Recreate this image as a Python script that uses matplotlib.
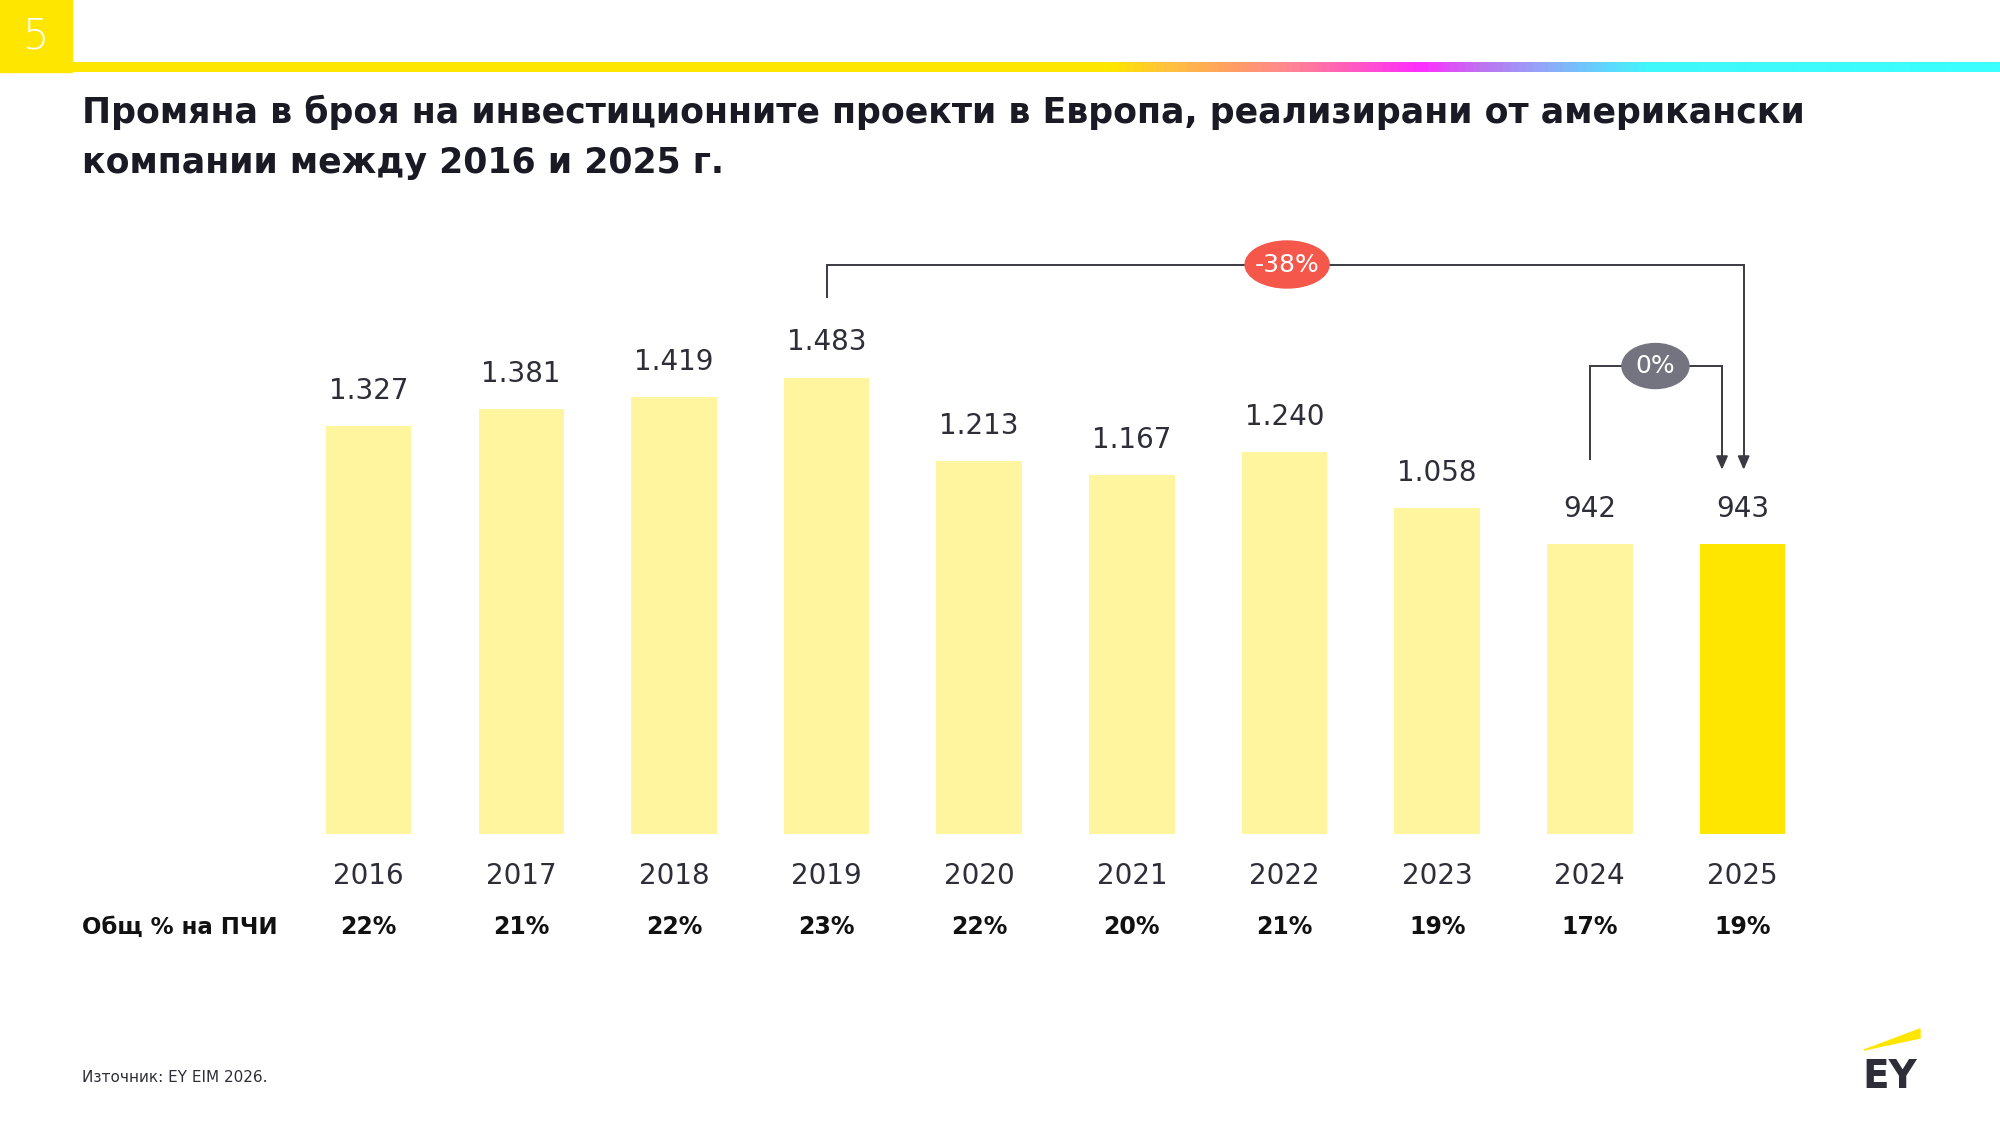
import numpy as np
import matplotlib
matplotlib.use("Agg")
import matplotlib.pyplot as plt
from matplotlib.colors import LinearSegmentedColormap
from matplotlib.patches import Ellipse, Rectangle, Polygon

plt.rcParams['font.family'] = ['DejaVu Sans']

# data
years = ['2016', '2017', '2018', '2019', '2020', '2021', '2022', '2023', '2024', '2025']
projects = [1327, 1381, 1419, 1483, 1213, 1167, 1240, 1058, 942, 943]
labels = ['1.327', '1.381', '1.419', '1.483', '1.213', '1.167', '1.240', '1.058', '942', '943']
fdi_share = ['22%', '21%', '22%', '23%', '22%', '20%', '21%', '19%', '17%', '19%']
change_long = '-38%'
change_short = '0%'

title = ('Промяна в броя на инвестиционните проекти в Европа, реализирани от американски\n'
         'компании между 2016 и 2025 г.')
row_label = 'Общ % на ПЧИ'
source = 'Източник: EY EIM 2026.'

W, H = 2000, 1125
DARK = '#2e2e38'
LIGHT_Y = '#fff59e'
EY_Y = '#ffe600'

fig = plt.figure(figsize=(20, 11.25), dpi=100)

# main axes covers whole figure; scales chosen so bars land where they should
ax = fig.add_axes([0, 0, 1, 1])
x0_px, dx_px = 368.6, 152.65        # centre of first bar, bar spacing
base_px = 834.0                     # baseline, from top
ppu = 456.5 / 1483.0                # pixels per project
ax.set_xlim(-x0_px / dx_px, (W - x0_px) / dx_px)
ax.set_ylim(-(H - base_px) / ppu, base_px / ppu)
ax.axis('off')

def du(px):  # pixels -> y data units
    return px / ppu

x = np.arange(len(years))
colors = [LIGHT_Y] * (len(years) - 1) + [EY_Y]
ax.bar(x, projects, width=0.56, color=colors, zorder=2)

for i, v in enumerate(projects):
    ax.text(i, v + du(35), labels[i], ha='center', va='center', fontsize=20, color=DARK)
    ax.text(i, -du(42), years[i], ha='center', va='center', fontsize=20, color=DARK)
    ax.text(i, -du(93), fdi_share[i], ha='center', va='center', fontsize=17,
            fontweight='bold', color='#111111')

# row label
fig.text(82 / W, 1 - 927 / H, row_label, ha='left', va='center', fontsize=16.5,
         fontweight='bold', color='#111111')

lc = '#3a3a44'
arrow = dict(arrowstyle='-|>,head_width=0.35,head_length=0.8',
             color=lc, lw=1.4, shrinkA=0, shrinkB=0)
tip = projects[9] + du(74)

# bracket 2019 -> 2025
top1 = max(projects) + du(113)
ax.plot([3, 3, 9.008, 9.008], [max(projects) + du(81), top1, top1, tip + du(8)],
        color=lc, lw=1.4, zorder=3, solid_joinstyle='miter')
ax.annotate('', xy=(9.008, tip), xytext=(9.008, tip + du(14)), arrowprops=arrow)
ax.add_patch(Ellipse((6.017, top1), 84 / dx_px, du(47), color='#f5574b', zorder=4))
ax.text(6.017, top1, change_long, ha='center', va='center', fontsize=18,
        color='white', zorder=5)

# bracket 2024 -> 2025
top2 = projects[8] + du(178)
ax.plot([8, 8, 8.866, 8.866], [projects[8] + du(85), top2, top2, tip + du(8)],
        color=lc, lw=1.4, zorder=3, solid_joinstyle='miter')
ax.annotate('', xy=(8.866, tip), xytext=(8.866, tip + du(14)), arrowprops=arrow)
ax.add_patch(Ellipse((8.43, top2), 67 / dx_px, du(45), color='#747480', zorder=4))
ax.text(8.43, top2, change_short, ha='center', va='center', fontsize=18,
        color='white', zorder=5)

# header: page number square and gradient rule
fig.patches.append(Rectangle((0, 1 - 72 / H), 72 / W, 72 / H, color=EY_Y,
                             transform=fig.transFigure, figure=fig))
fig.text(36 / W, 1 - 36 / H, '5', ha='center', va='center', fontsize=30,
         color='white', fontweight='light')
grad = LinearSegmentedColormap.from_list('ey', [
    (0.0, EY_Y), (0.54, EY_Y), (0.57, '#ffc040'), (0.60, '#ffa060'),
    (0.63, '#ff8890'), (0.66, '#ff60b8'), (0.70, '#ff2cff'), (0.73, '#c070f0'),
    (0.76, '#98a0f8'), (0.79, '#68ccfc'), (0.82, '#40f8fc'), (1.0, '#3cffff')])
gax = fig.add_axes([72 / W, 1 - 72 / H, 1 - 72 / W, 10 / H])
gax.imshow(np.linspace(0, 1, 512)[None, :], cmap=grad, aspect='auto')
gax.axis('off')

# title
fig.text(82 / W, 1 - 123 / H, title.split('\n')[0], ha='left', va='baseline',
         fontsize=25, fontweight='bold', color='#1a1a24')
fig.text(82 / W, 1 - 173 / H, title.split('\n')[1], ha='left', va='baseline',
         fontsize=25, fontweight='bold', color='#1a1a24')

# source
fig.text(82 / W, 1 - 1078 / H, source, ha='left', va='center', fontsize=11, color=DARK)

# EY logo
fig.patches.append(Polygon([(1864 / W, 1 - 1050 / H), (1920 / W, 1 - 1029 / H),
                            (1920 / W, 1 - 1038 / H)], closed=True, color=EY_Y,
                           transform=fig.transFigure, figure=fig))
fig.text(1862 / W, 1 - 1088 / H, 'EY', ha='left', va='baseline', fontsize=28,
         fontweight='heavy', color=DARK)

fig.savefig('out.png', dpi=100)
